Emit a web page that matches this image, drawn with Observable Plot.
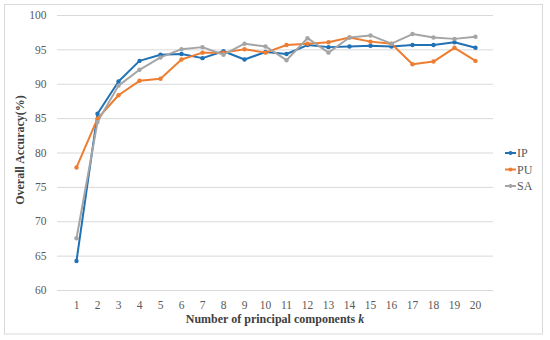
<!DOCTYPE html>
<html>
<head>
<meta charset="utf-8">
<script src="https://cdn.jsdelivr.net/npm/d3@7"></script>
<script src="https://cdn.jsdelivr.net/npm/@observablehq/plot@0.6"></script>
<style>
  html, body { margin: 0; padding: 0; background: #fff; }
  #chart svg { display: block; }
</style>
</head>
<body>
<div id="chart"></div>
<script>
const kValues = [1,2,3,4,5,6,7,8,9,10,11,12,13,14,15,16,17,18,19,20];
const IP = [64.3, 85.7, 90.4, 93.4, 94.3, 94.4, 93.8, 94.8, 93.6, 94.7, 94.4, 95.7, 95.4, 95.5, 95.6, 95.5, 95.7, 95.7, 96.1, 95.3];
const PU = [77.9, 85.0, 88.4, 90.5, 90.8, 93.6, 94.6, 94.6, 95.1, 94.6, 95.7, 95.9, 96.1, 96.8, 96.2, 95.9, 92.9, 93.3, 95.3, 93.4];
const SA = [67.6, 84.5, 89.8, 92.1, 93.9, 95.1, 95.4, 94.3, 95.9, 95.5, 93.5, 96.7, 94.6, 96.8, 97.1, 95.9, 97.3, 96.8, 96.6, 96.9];
const seriesNames = ["IP", "PU", "SA"];
const seriesColors = ["#2171b5", "#ed7d31", "#a5a5a5"];
const yTicks = [60, 65, 70, 75, 80, 85, 90, 95, 100];

const seriesValues = {IP, PU, SA};
const data = [];
for (const name of seriesNames) {
  seriesValues[name].forEach((v, i) => data.push({series: name, k: kValues[i], value: v}));
}

const serif = "'Liberation Serif', 'Times New Roman', serif";

const plot = Plot.plot({
  width: 550,
  height: 340,
  marginLeft: 57,
  marginRight: 57,
  marginTop: 15,
  marginBottom: 50,
  style: {fontFamily: serif, fontSize: "11.5px", color: "#595959", background: "#fff"},
  x: {type: "point", domain: kValues, padding: 0.5, label: null, tickSize: 0, tickPadding: 10},
  y: {domain: [60, 100], ticks: yTicks, label: null, tickSize: 0, tickPadding: 11},
  color: {domain: seriesNames, range: seriesColors},
  marks: [
    Plot.ruleY(yTicks, {stroke: "#d9d9d9", strokeWidth: 1}),
    Plot.line(data, {x: "k", y: "value", z: "series", stroke: "series", strokeWidth: 2}),
    Plot.dot(data, {x: "k", y: "value", fill: "series", r: 2.2})
  ]
});

const svg = d3.select(plot);
// border
svg.insert("rect", ":first-child")
  .attr("x", 4.5).attr("y", 4.5).attr("width", 538).attr("height", 329.5)
  .attr("fill", "none").attr("stroke", "#d9d9d9").attr("stroke-width", 1);

// x axis title
const xt = svg.append("text")
  .attr("x", 275).attr("y", 323)
  .attr("text-anchor", "middle")
  .attr("font-family", serif).attr("font-size", "12px").attr("font-weight", "bold")
  .attr("fill", "#404040");
xt.append("tspan").text("Number of principal components ");
xt.append("tspan").attr("font-style", "italic").text("k");

// y axis title
svg.append("text")
  .attr("transform", "translate(24,150) rotate(-90)")
  .attr("text-anchor", "middle")
  .attr("font-family", serif).attr("font-size", "12px").attr("font-weight", "bold")
  .attr("fill", "#404040")
  .text("Overall Accuracy(%)");

// legend
const lg = svg.append("g").attr("text-anchor", "start");
seriesNames.forEach((name, i) => {
  const y = 153 + i * 16.5;
  lg.append("line").attr("x1", 505).attr("x2", 516).attr("y1", y).attr("y2", y)
    .attr("stroke", seriesColors[i]).attr("stroke-width", 2);
  lg.append("circle").attr("cx", 510.5).attr("cy", y).attr("r", 2).attr("fill", seriesColors[i]);
  lg.append("text").attr("x", 517).attr("y", y).attr("dy", "0.35em")
    .attr("text-anchor", "start")
    .attr("font-family", serif).attr("font-size", "12px").attr("fill", "#595959")
    .text(name);
});

document.getElementById("chart").appendChild(plot);
</script>
</body>
</html>
